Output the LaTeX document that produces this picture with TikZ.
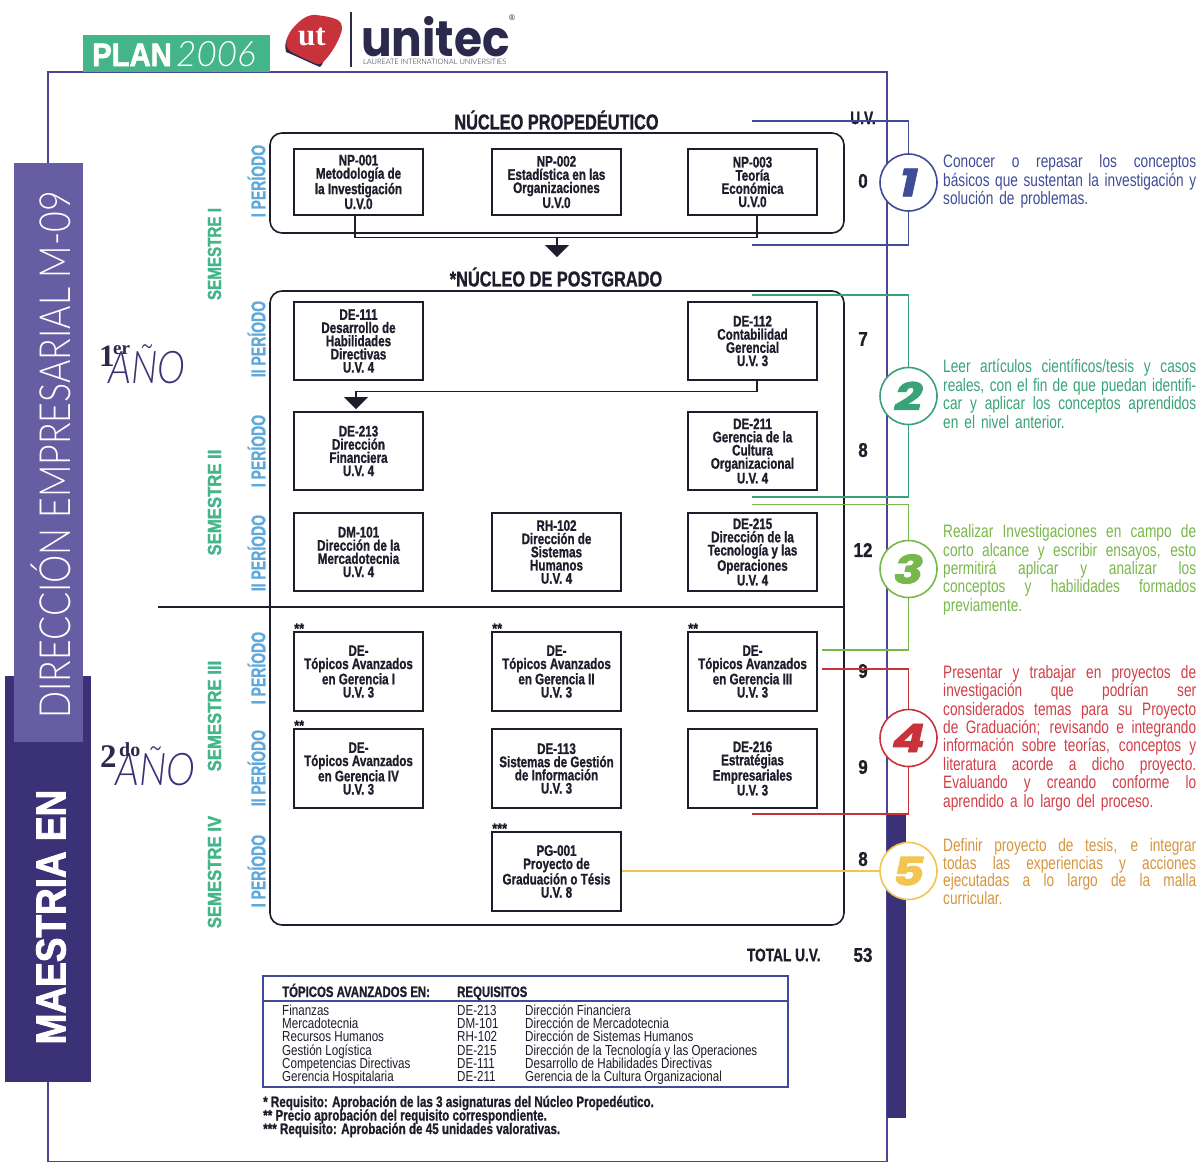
\documentclass[tikz,border=0pt]{standalone}
\usepackage{fontspec}
\setmainfont{Liberation Sans}
\newfontfamily\nar[FakeStretch=0.76]{Liberation Sans}
\newfontfamily\nart[FakeStretch=0.8]{Liberation Sans}
\newfontfamily\narb[FakeStretch=0.76,FakeBold=1]{Liberation Sans Bold}
\newfontfamily\perf[FakeStretch=0.7,FakeBold=1]{Liberation Sans Bold}
\newfontfamily\semf[FakeStretch=0.88,FakeBold=1.6]{Liberation Sans Bold}
\newfontfamily\semfi[FakeStretch=0.8,FakeBold=1.6]{Liberation Sans Bold}
\newfontfamily\numf[FakeStretch=0.85,FakeBold=0.8]{Liberation Sans Bold}
\newfontfamily\heavyf[FakeStretch=0.88,FakeBold=2]{Liberation Sans Bold}
\newfontfamily\planf[FakeStretch=0.9,FakeBold=2]{Liberation Sans Bold}
\newfontfamily\lightf{Lato Light}
\newfontfamily\lightn[FakeStretch=0.83]{Lato Light}
\newfontfamily\lighti[ItalicFont={Lato Light Italic}]{Lato Light}
\newfontfamily\pop{Poppins}
\newfontfamily\digf[FakeStretch=1.25,FakeBold=2]{Poppins}
\newfontfamily\serb{Liberation Serif}
\definecolor{dkpurple}{HTML}{3B3176}
\definecolor{ltpurple}{HTML}{675DA3}
\definecolor{framec}{HTML}{4A4596}
\definecolor{greena}{HTML}{44B58B}
\definecolor{perblue}{HTML}{5FA9DA}
\definecolor{c1}{HTML}{3F4C97}
\definecolor{c2}{HTML}{39A277}
\definecolor{c3}{HTML}{78B74B}
\definecolor{c4}{HTML}{C8323A}
\definecolor{c5}{HTML}{F2C552}
\definecolor{t4}{HTML}{D03F47}
\definecolor{t5}{HTML}{D5953F}
\definecolor{inkc}{HTML}{1D1D2B}
\definecolor{navy}{HTML}{2B2A4C}
\newcommand{\jl}[1]{\leavevmode\hbox to 253pt{\spaceskip=.2em plus 1fil minus .05em\relax #1}}
\tikzset{
  course/.style={draw=inkc,line width=1.5pt,minimum width=129pt,inner sep=0pt,align=center,
    font=\narb\fontsize{15.3}{13.2}\selectfont,text=inkc,fill=white},
  cont/.style={draw=inkc,line width=1.6pt,rounded corners=12pt},
  link/.style={draw=inkc,line width=1.6pt},
  uv/.style={font=\narb\fontsize{18}{18}\selectfont,text=inkc},
  uvn/.style={font=\numf\fontsize{20}{20}\selectfont,text=inkc},
  per/.style={rotate=90,font=\perf\fontsize{20}{20}\selectfont,text=perblue},
  sem/.style={rotate=90,font=\semf\fontsize{19}{19}\selectfont,text=greena},
  head/.style={font=\narb\fontsize{21.5}{21.5}\selectfont,text=inkc},
  desc/.style={anchor=north west,inner sep=0pt,align=left,text width=253pt,font=\nar\fontsize{18}{18.4}\selectfont},
  badge/.style={circle,draw=#1,line width=1.6pt,fill=white,minimum size=57pt,inner sep=0pt,text=#1,
     font=\digf\bfseries\itshape\fontsize{39}{39}\selectfont},
  brk/.style={draw=#1,line width=1.4pt},
  tabt/.style={anchor=base west,inner sep=0pt,font=\nart\fontsize{14.5}{14.5}\selectfont,text=inkc},
  tabh/.style={anchor=base west,inner sep=0pt,font=\narb\fontsize{15}{15}\selectfont,text=inkc},
  note/.style={anchor=base west,inner sep=0pt,font=\narb\fontsize{15.3}{15}\selectfont,text=inkc},
  star/.style={anchor=west,inner sep=0pt,font=\numf\fontsize{15}{15}\selectfont,text=inkc},
  lab/.style={anchor=base west,inner sep=0pt},
}
\begin{document}
\begin{tikzpicture}[x=1pt,y=-1pt]
\useasboundingbox (0,0) rectangle (1198,1163);
% frame
\draw[framec,line width=1.8pt] (48,170) -- (48,72) -- (887,72) -- (887,1161.5) -- (48,1161.5) -- (48,1075);
\fill[dkpurple] (887,815) rectangle (906,1118);
\fill[dkpurple] (5,676) rectangle (91,1082);
\fill[ltpurple] (14,163) rectangle (83,742);
\node[rotate=90,text=white,font=\lightn\fontsize{43}{43}\selectfont] (dir) at (51,455) {DIRECCIÓN EMPRESARIAL M-09};
\node[rotate=90,text=white,font=\heavyf\fontsize{42}{42}\selectfont] (mae) at (51,917) {MAESTRIA EN};
% header
\fill[greena] (83,35) rectangle (270,72);
\node[lab,text=white,font=\planf\fontsize{32.5}{32}\selectfont] (plan) at (92,66) {PLAN};
\node[lab,text=white,font=\lighti\itshape\fontsize{35}{35}\selectfont] (yr) at (176,66) {2006};
\fill[navy] (292,30) .. controls (286,38) and (284,46) .. (286,52) .. controls (296,56) and (308,62) .. (320,67) .. controls (328,60) and (322,50) .. (300,30) -- cycle;
\fill[c4] (294,27) .. controls (300,20) and (308,14) .. (316,15) .. controls (324,16) and (332,17) .. (338,20) .. controls (343,23) and (343,30) .. (340,36) .. controls (336,46) and (329,57) .. (322,63) .. controls (318,66) and (315,63) .. (310,61) .. controls (303,58) and (295,54) .. (290,51) .. controls (286,48) and (285,42) .. (288,36) .. controls (290,32) and (291,30) .. (294,27) -- cycle;
\node[text=white,font=\serb\bfseries\fontsize{31}{31}\selectfont] (ut) at (312,37) {ut};
\draw[navy,line width=1.3pt] (351,12) -- (351,67);
\node[lab,text=navy,font=\pop\bfseries\fontsize{50}{50}\selectfont] (uni) at (361,56) {\addfontfeature{FakeStretch=0.91}unitec};
\node[inner sep=0pt,text=inkc,font=\fontsize{8}{8}\selectfont] (rr) at (512,18) {®};
\node[anchor=west,inner sep=0pt,text=inkc,font=\lightf\fontsize{7.4}{7.4}\selectfont] (lau) at (363,61.5) {LAUREATE INTERNATIONAL UNIVERSITIES};
% year labels
\node[lab,text=dkpurple,font=\lighti\itshape\fontsize{45}{45}\selectfont] (y1c) at (108,383) {\addfontfeature{FakeStretch=0.84}AÑO};
\node[lab,text=navy,font=\serb\bfseries\fontsize{31}{31}\selectfont] (y1a) at (99,366) {1};
\node[lab,text=navy,font=\serb\bfseries\fontsize{19}{19}\selectfont] (y1b) at (113,354) {er};
\node[lab,text=dkpurple,font=\lighti\itshape\fontsize{45}{45}\selectfont] (y2c) at (115,785) {\addfontfeature{FakeStretch=0.87}AÑO};
\node[lab,text=navy,font=\serb\bfseries\fontsize{33}{33}\selectfont] (y2a) at (100,767) {2};
\node[lab,text=navy,font=\serb\bfseries\fontsize{20}{20}\selectfont] (y2b) at (119,756) {do};
% containers
\draw[cont] (270,133) rectangle (844,233);
\draw[cont] (270,291) rectangle (844,925);
\coordinate (sepL) at (158,607);\coordinate (sepR) at (844,607);
\draw[link] (sepL) -- (sepR);
% headings
\node[head] (h1) at (556.5,120) {NÚCLEO PROPEDÉUTICO};
\node[head] (h2) at (556,277) {*NÚCLEO DE POSTGRADO};
\node[uv] (uvh) at (863,118) {U.V.};
% rotated labels
\foreach \n/\y/\t in {p1/181/I PERÍODO,p2/339/II PERÍODO,p3/451/I PERÍODO,p4/553/II PERÍODO,p5/668/I PERÍODO,p6/768/II PERÍODO,p7/871/I PERÍODO}
  \node[per] (\n) at (256.5,\y) {\t};
\node[sem,font=\semfi\fontsize{19}{19}\selectfont] (s1) at (214.5,254) {SEMESTRE I};
\foreach \n/\y/\t in {s2/502.5/SEMESTRE II,s3/716/SEMESTRE III,s4/872/SEMESTRE IV}
  \node[sem] (\n) at (214.5,\y) {\t};
% courses
\node[course,minimum height=66pt] (np1) at (358.5,182) {NP-001\\Metodología de\\la Investigación\\U.V.0};
\node[course,minimum height=66pt] (np2) at (556.5,182) {NP-002\\Estadística en las\\Organizaciones\\U.V.0};
\node[course,minimum height=66pt] (np3) at (752.5,182) {NP-003\\Teoría\\Económica\\U.V.0};
\node[course,minimum height=78pt] (a1) at (358.5,341) {DE-111\\Desarrollo de\\Habilidades\\Directivas\\U.V. 4};
\node[course,minimum height=78pt] (a3) at (752.5,341) {DE-112\\Contabilidad\\Gerencial\\U.V. 3};
\node[course,minimum height=78pt] (b1) at (358.5,451) {DE-213\\Dirección\\Financiera\\U.V. 4};
\node[course,minimum height=78pt] (b3) at (752.5,451) {DE-211\\Gerencia de la\\Cultura\\Organizacional\\U.V. 4};
\node[course,minimum height=78pt] (c1n) at (358.5,552) {DM-101\\Dirección de la\\Mercadotecnia\\U.V. 4};
\node[course,minimum height=78pt] (c2n) at (556.5,552) {RH-102\\Dirección de\\Sistemas\\Humanos\\U.V. 4};
\node[course,minimum height=78pt] (c3n) at (752.5,552) {DE-215\\Dirección de la\\Tecnología y las\\Operaciones\\U.V. 4};
\node[course,minimum height=79pt] (d1) at (358.5,671.5) {DE-\\Tópicos Avanzados\\en Gerencia I\\U.V. 3};
\node[course,minimum height=79pt] (d2) at (556.5,671.5) {DE-\\Tópicos Avanzados\\en Gerencia II\\U.V. 3};
\node[course,minimum height=79pt] (d3) at (752.5,671.5) {DE-\\Tópicos Avanzados\\en Gerencia III\\U.V. 3};
\node[course,minimum height=79pt] (e1) at (358.5,768.5) {DE-\\Tópicos Avanzados\\en Gerencia IV\\U.V. 3};
\node[course,minimum height=79pt] (e2) at (556.5,768.5) {DE-113\\Sistemas de Gestión\\de Información\\U.V. 3};
\node[course,minimum height=79pt] (e3) at (752.5,768.5) {DE-216\\Estratégias\\Empresariales\\U.V. 3};
\node[course,minimum height=79pt] (f2) at (556.5,871.5) {PG-001\\Proyecto de\\Graduación o Tésis\\U.V. 8};
% asterisks
\node[star] (st1) at (294,628.5) {**};
\node[star] (st2) at (492,628.5) {**};
\node[star] (st3) at (688,628.5) {**};
\node[star] (st4) at (294,725.5) {**};
\node[star] (st5) at (492,828.5) {***};
% uv values
\node[uvn] (u0) at (863,181) {0};
\node[uvn] (u1) at (863,339) {7};
\node[uvn] (u2) at (863,450) {8};
\node[uvn] (u3) at (863,550) {12};
\node[uvn] (u4) at (863,671) {9};
\node[uvn] (u5) at (863,767) {9};
\node[uvn] (u6) at (863,859) {8};
\node[uv,anchor=east] (tot) at (824,955) {TOTAL U.V.};
\node[uvn] (u7) at (863,955) {53};
% black connectors
\coordinate (j1) at (557,237.5);
\coordinate (j1t) at (557,257);
\coordinate (jl) at (355,237.5);
\coordinate (jr) at (757,237.5);
\draw[link] (np1.south -| jl) -- (jl) -- (jr) -- (np3.south -| jr);
\draw[link] (j1) -- (557,246);
\fill[inkc] (545,245) -- (569,245) -- (j1t) -- cycle;
\coordinate (j2) at (356,391.5);
\coordinate (j3) at (757,391.5);
\draw[link] (a3.south -| j3) -- (j3) -- (j2) -- (356,398);
\fill[inkc] (344,397) -- (368,397) -- (356,409) -- cycle;
% coloured brackets
\node[badge=c1] (n1) at (908.5,182.5) {1};
\node[badge=c2] (n2) at (908.5,396) {2};
\node[badge=c3] (n3) at (908.5,569) {3};
\node[badge=c4] (n4) at (908.5,738) {4};
\node[badge=c5] (n5) at (908.5,871) {5};
\draw[brk=c1] (752,121) -| (n1.north);
\draw[brk=c1] (752,245) -| (n1.south);
\draw[brk=c2] (752,295) -| (n2.north);
\draw[brk=c2] (752,497) -| (n2.south);
\draw[brk=c3] (752,504.5) -| (n3.north);
\draw[brk=c3] (822,650) -| (n3.south);
\draw[brk=c4] (822,669) -| (n4.north);
\draw[brk=c4] (752,814) -| (n4.south);
\draw[brk=c5] (f2.east |- n5) -- (n5.west);
% descriptions
\node[desc,text=c1] (d1t) at (943,154.5) {\jl{Conocer o repasar los conceptos}\\\jl{básicos que sustentan la investigación y}\\solución de problemas.};
\node[desc,text=c2] (d2t) at (943,359.5) {\jl{Leer artículos científicos/tesis y casos}\\\jl{reales, con el fin de que puedan identifi-}\\\jl{car y aplicar los conceptos aprendidos}\\en el nivel anterior.};
\node[desc,text=c3] (d3t) at (943,524.5) {\jl{Realizar Investigaciones en campo de}\\\jl{corto alcance y escribir ensayos, esto}\\\jl{permitirá aplicar y analizar los}\\\jl{conceptos y habilidades formados}\\previamente.};
\node[desc,text=t4] (d4t) at (943,665) {\jl{Presentar y trabajar en proyectos de}\\\jl{investigación que podrían ser}\\\jl{considerados temas para su Proyecto}\\\jl{de Graduación; revisando e integrando}\\\jl{información sobre teorías, conceptos y}\\\jl{literatura acorde a dicho proyecto.}\\\jl{Evaluando y creando conforme lo}\\aprendido a lo largo del proceso.};
\node[desc,text=t5,font=\nar\fontsize{18}{16.2}\selectfont] (d5t) at (943,838) {\jl{Definir proyecto de tesis, e integrar}\\\jl{todas las experiencias y acciones}\\\jl{ejecutadas a lo largo de la malla}\\curricular.};
% table
\draw[c1,line width=1.8pt] (263,976) rectangle (788,1087);
\coordinate (tl) at (263,1001);\coordinate (tr) at (788,1001);
\draw[c1,line width=1.6pt] (tl) -- (tr);
\node[tabh] (th1) at (282,997) {TÓPICOS AVANZADOS EN:};
\node[tabh] (th2) at (457,997) {REQUISITOS};
\foreach \i/\y/\a/\b/\c in {1/1015/Finanzas/DE-213/Dirección Financiera,2/1028/Mercadotecnia/DM-101/Dirección de Mercadotecnia,3/1041.5/Recursos Humanos/RH-102/Dirección de Sistemas Humanos,4/1055/Gestión Logística/DE-215/Dirección de la Tecnología y las Operaciones,5/1068/Competencias Directivas/DE-111/Desarrollo de Habilidades Directivas,6/1081/Gerencia Hospitalaria/DE-211/Gerencia de la Cultura Organizacional}{
  \node[tabt] (ta\i) at (282,\y) {\a};
  \node[tabt] (tb\i) at (457,\y) {\b};
  \node[tabt] (tc\i) at (525,\y) {\c};
}
\node[note] (f1) at (263,1107) {* Requisito: Aprobación de las 3 asignaturas del Núcleo Propedéutico.};
\node[note] (f2n) at (263,1120.5) {** Precio aprobación del requisito correspondiente.};
\node[note] (f3n) at (263,1134) {*** Requisito: Aprobación de 45 unidades valorativas.};
\end{tikzpicture}
\end{document}
